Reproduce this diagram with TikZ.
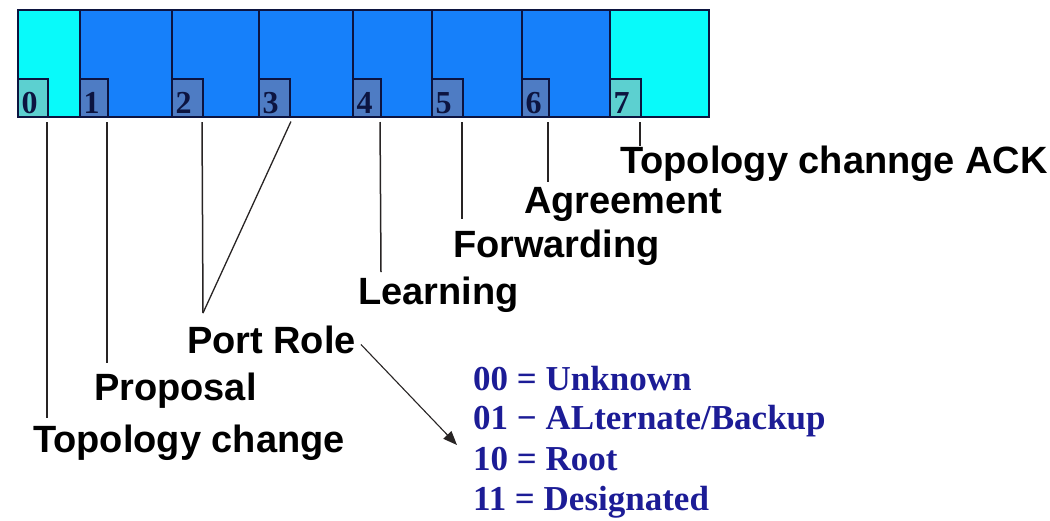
\documentclass[tikz,border=0pt]{standalone}
\usepackage{fontspec}
\setmainfont{Liberation Serif}
\newfontfamily\labelfont{Liberation Sans}
\usetikzlibrary{arrows.meta}

\definecolor{flagcyan}{RGB}{8,250,250}
\definecolor{flagblue}{RGB}{22,128,250}
\definecolor{flagedge}{RGB}{12,20,64}
\definecolor{tagblue}{RGB}{78,124,196}
\definecolor{tagcyan}{RGB}{92,208,208}
\definecolor{rolenavy}{RGB}{28,28,150}
\definecolor{leadgray}{RGB}{40,36,36}

\tikzset{
  cell/.style={draw=flagedge, line width=1.4pt, inner sep=0pt, outer sep=0pt,
               anchor=north west, minimum height=107pt},
  tag/.style={draw=flagedge, line width=1.2pt, inner sep=0pt, outer sep=0pt,
              anchor=south west, minimum height=38pt},
  digit/.style={inner sep=0pt, anchor=base west, text=flagedge,
                font=\bfseries\fontsize{32}{34}\selectfont},
  flaglabel/.style={inner sep=0pt, outer sep=0pt, anchor=base west, text=black,
                    font=\labelfont\bfseries\fontsize{38}{40}\selectfont},
  roletext/.style={inner sep=0pt, anchor=base west, text=rolenavy,
                   font=\bfseries\fontsize{35}{40}\selectfont},
  lead/.style={draw=leadgray, line width=1.5pt, shorten <=5pt},
  pointer/.style={draw=leadgray, line width=1.1pt,
                  -{Triangle[length=14pt,width=11pt]}},
}

\begin{document}
\begin{tikzpicture}[x=1pt,y=-1pt]
\useasboundingbox (0,0) rectangle (1050,520);

% the eight flag bits
\foreach \i/\a/\b/\f in {0/18/80/flagcyan, 1/80/172/flagblue, 2/172/259/flagblue,
    3/259/353/flagblue, 4/353/432/flagblue, 5/432/522/flagblue,
    6/522/610/flagblue, 7/610/709/flagcyan}
  \node[cell, fill=\f, minimum width={(\b-\a)*1pt}] (c\i) at (\a,10) {};

% bit number tags
\foreach \i/\a/\w/\f in {0/18/30/tagcyan, 1/80/28/tagblue, 2/172/31/tagblue,
    3/259/31/tagblue, 4/353/28/tagblue, 5/432/31/tagblue,
    6/522/27/tagblue, 7/610/31/tagcyan}
{
  \node[tag, fill=\f, minimum width={\w*1pt}] (b\i) at (\a,117) {};
  \node[digit] (d\i) at (\a+3.5,113) {\i};
}

\draw[flagedge, line width=2pt] (c0.north west) rectangle (c7.south east);

% flag names
\node[flaglabel] (t0) at (33,452) {Topology change};
\node[flaglabel] (t1) at (94,400) {Proposal};
\node[flaglabel] (t2) at (187,353) {Port Role};
\node[flaglabel] (t4) at (358,304) {Learning};
\node[flaglabel] (t5) at (453,257) {Forwarding};
\node[flaglabel] (t6) at (524,213) {Agreement};
\node[flaglabel] (t7) at (620,173) {Topology channge ACK};

% lower ends of the leader lines
\coordinate (e0) at (47,418);
\coordinate (e1) at (107,363);
\coordinate (e2) at (203,313);
\coordinate (e4) at (381,272);
\coordinate (e5) at (462,219);
\coordinate (e6) at (548,182);
\coordinate (e7) at (640,146);

\draw[lead] ([xshift=-1pt]b0.south east) -- (e0);
\draw[lead] ([xshift=-1pt]b1.south east) -- (e1);
\draw[lead] ([xshift=-1pt]b2.south east) -- (e2);
\draw[lead, line width=1.3pt] ([xshift=3pt]b3.south east) -- (e2);
\draw[lead] ([xshift=-1pt]b4.south east) -- (e4);
\draw[lead] ([xshift=-1pt]b5.south east) -- (e5);
\draw[lead] ([xshift=-1pt]b6.south east) -- (e6);
\draw[lead] ([xshift=-1pt]b7.south east) -- (e7);

% port role encodings
\node[roletext] (r0) at (473,390) {00 = Unknown};
\node[roletext] (r1) at (473,429) {01 − ALternate/Backup};
\node[roletext] (r2) at (473,470) {10 = Root};
\node[roletext] (r3) at (473,510) {11 = Designated};

\coordinate (e3) at (457,445);
\draw[pointer] ([xshift=5pt,yshift=-5pt]t2.east) -- (e3);
\end{tikzpicture}
\end{document}
